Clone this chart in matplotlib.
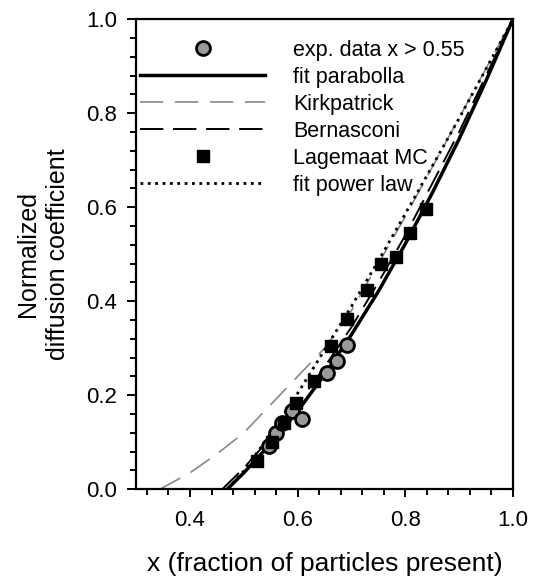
import matplotlib
matplotlib.use("Agg")
import matplotlib.pyplot as plt
from matplotlib.ticker import MultipleLocator, FormatStrFormatter

plt.rcParams['font.family'] = ['Liberation Sans', 'DejaVu Sans']

# experimental data (x > 0.55)
exp_x = [0.547, 0.560, 0.571, 0.590, 0.608, 0.654, 0.673, 0.692]
exp_y = [0.093, 0.119, 0.140, 0.167, 0.150, 0.248, 0.273, 0.306]

# Lagemaat Monte Carlo
mc_x = [0.525, 0.552, 0.575, 0.597, 0.630, 0.662, 0.691, 0.729, 0.754, 0.783, 0.809, 0.839]
mc_y = [0.061, 0.100, 0.140, 0.184, 0.231, 0.305, 0.362, 0.423, 0.479, 0.494, 0.545, 0.597]

# curves
par_x = [0.469, 0.50, 0.55, 0.60, 0.65, 0.70, 0.75, 0.80, 0.85, 0.90, 0.95, 1.00]
par_y = [0.0, 0.035, 0.097, 0.166, 0.244, 0.329, 0.421, 0.522, 0.630, 0.745, 0.869, 1.0]

kirk_x = [0.344, 0.40, 0.45, 0.50, 0.55, 0.60, 0.65, 0.70, 0.75, 0.80, 0.85, 0.90, 0.95, 1.00]
kirk_y = [0.0, 0.035, 0.075, 0.12, 0.18, 0.24, 0.30, 0.38, 0.48, 0.58, 0.685, 0.79, 0.895, 1.0]

bern_x = [0.46, 0.50, 0.55, 0.60, 0.65, 0.70, 0.75, 0.80, 0.85, 0.90, 0.95, 1.00]
bern_y = [0.0, 0.045, 0.11, 0.18, 0.26, 0.345, 0.44, 0.54, 0.65, 0.76, 0.88, 1.0]

pow_x = [0.47, 0.50, 0.55, 0.60, 0.65, 0.70, 0.75, 0.80, 0.85, 0.90, 0.95, 1.00]
pow_y = [0.0, 0.039, 0.118, 0.204, 0.296, 0.389, 0.486, 0.586, 0.687, 0.789, 0.894, 1.0]

fig = plt.figure(figsize=(5.36, 5.79), dpi=100)
ax = fig.add_axes([0.254, 0.155, 0.703, 0.812])

ax.plot(exp_x, exp_y, 'o', ms=10, mfc='#9a9a9a', mec='black', mew=2,
        label='exp. data x > 0.55', zorder=4)
ax.plot(par_x, par_y, '-', color='black', lw=2.5, label='fit parabolla', zorder=3)
ax.plot(kirk_x, kirk_y, color='#888888', lw=1.2, dashes=(14, 7),
        label='Kirkpatrick', zorder=2)
ax.plot(bern_x, bern_y, color='black', lw=1.4, dashes=(12, 5),
        label='Bernasconi', zorder=2)
ax.plot(mc_x, mc_y, 's', ms=8, mfc='black', mec='black',
        label='Lagemaat MC', zorder=5)
ax.plot(pow_x, pow_y, ':', color='black', lw=2.0, label='fit power law', zorder=2)

ax.set_xlim(0.3, 1.0)
ax.set_ylim(0.0, 1.0)
ax.xaxis.set_major_locator(MultipleLocator(0.2))
ax.xaxis.set_minor_locator(MultipleLocator(0.04))
ax.yaxis.set_major_locator(MultipleLocator(0.2))
ax.yaxis.set_minor_locator(MultipleLocator(0.04))
ax.xaxis.set_major_formatter(FormatStrFormatter('%.1f'))
ax.yaxis.set_major_formatter(FormatStrFormatter('%.1f'))
ax.tick_params(which='both', direction='out', width=1.4, labelsize=16,
               top=False, right=False)
ax.tick_params(axis='x', which='major', length=6, pad=9)
ax.tick_params(axis='x', which='minor', length=4.5)
ax.tick_params(axis='y', which='major', length=6.5, pad=7)
ax.tick_params(axis='y', which='minor', length=4)
for s in ax.spines.values():
    s.set_linewidth(1.6)

ax.set_xlabel('x (fraction of particles present)', fontsize=19, labelpad=15)
ax.set_ylabel('Normalized\ndiffusion coefficient', fontsize=18, labelpad=12,
              linespacing=1.3)

ax.legend(loc='upper left', bbox_to_anchor=(0.0, 0.965), frameon=False,
          fontsize=15.5, handlelength=5.8, handletextpad=1.3, labelspacing=0.28,
          borderpad=0.2, borderaxespad=0, numpoints=1)

fig.savefig('out.png', dpi=100)
